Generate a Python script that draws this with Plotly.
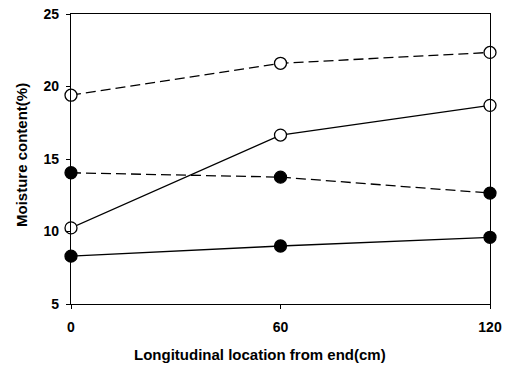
import plotly.graph_objects as go

x_cm = [0, 60, 120]
open_dashed = [19.4, 21.6, 22.35]
open_solid = [10.25, 16.65, 18.7]
filled_dashed = [14.05, 13.75, 12.65]
filled_solid = [8.3, 9.0, 9.6]

series = [
    (open_dashed, "white", "dash"),
    (open_solid, "white", "solid"),
    (filled_dashed, "black", "dash"),
    (filled_solid, "black", "solid"),
]

fig = go.Figure()
for ys, fill, dash in series:
    fig.add_trace(go.Scatter(
        x=x_cm, y=ys, mode="lines+markers",
        line=dict(color="black", width=1.3, dash="10px,5px" if dash == "dash" else "solid"),
        marker=dict(size=12, color=fill, line=dict(color="black", width=1.3)),
        showlegend=False, cliponaxis=False,
    ))

fam = "Liberation Sans, Arial, sans-serif"
W, H = 511, 368
L, R, T, B = 71, 21, 14, 64
fig.update_layout(
    width=W, height=H,
    margin=dict(l=L, r=R, t=T, b=B, autoexpand=False),
    plot_bgcolor="white", paper_bgcolor="white",
    font=dict(family=fam, color="black", size=14),
)
fig.update_xaxes(
    range=[0, 120], tickvals=[0, 60, 120], ticks="outside", ticklen=4,
    tickcolor="black", linecolor="black", linewidth=1.3, mirror=True,
    showgrid=False, zeroline=False, ticklabelstandoff=6, automargin=False,
    tickfont=dict(size=14, family=fam, weight="bold"),
)
fig.update_yaxes(
    range=[5, 25], tickvals=[5, 10, 15, 20, 25], ticks="outside", ticklen=4,
    tickcolor="black", linecolor="black", linewidth=1.3, mirror=True,
    showgrid=False, zeroline=False, ticklabelstandoff=4, automargin=False,
    tickfont=dict(size=14, family=fam, weight="bold"),
)
pw, ph = W - L - R, H - T - B
fig.add_annotation(
    text="Longitudinal location from end(cm)", xref="paper", yref="paper",
    x=(260 - L) / pw, y=-(354 - (H - B)) / ph, showarrow=False,
    xanchor="center", yanchor="middle",
    font=dict(size=15, family=fam, weight="bold"),
)
fig.add_annotation(
    text="Moisture content(%)", xref="paper", yref="paper",
    x=-(L - 21) / pw, y=1 - (155 - T) / ph, showarrow=False, textangle=-90,
    xanchor="center", yanchor="middle",
    font=dict(size=15, family=fam, weight="bold"),
)
fig.write_html("out.html")
